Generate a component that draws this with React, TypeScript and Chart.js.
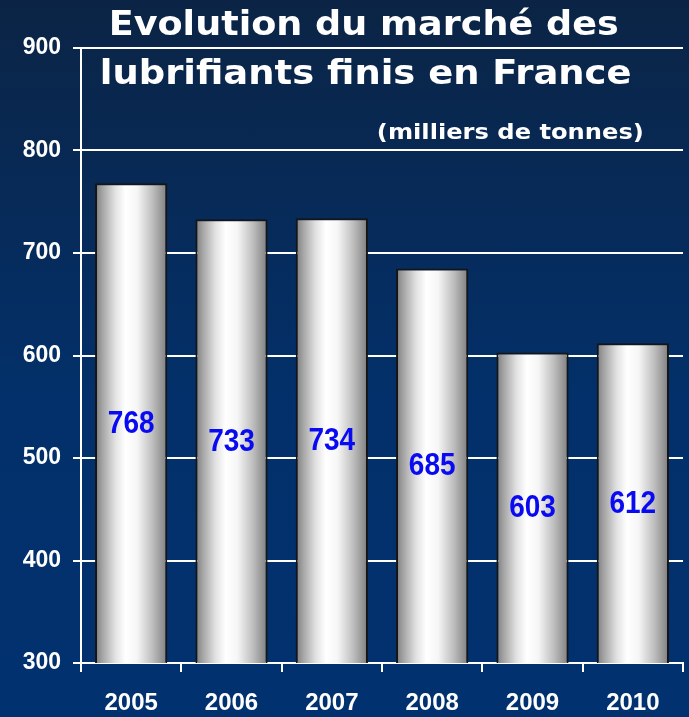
import { useEffect, useRef } from "react";
import { Chart, registerables } from "chart.js";

Chart.register(...registerables);

// ---- data ----
const years = ["2005", "2006", "2007", "2008", "2009", "2010"];
const volumes = [768, 733, 734, 685, 603, 612];
const yMin = 300;
const yMax = 900;
const yStep = 100;
const titleLines = ["Evolution du marché des", "lubrifiants finis en France"];
const unitLabel = "(milliers de tonnes)";

const SANS = '"Liberation Sans", Arial, sans-serif';
const TITLE_FONT = '"DejaVu Sans", Verdana, sans-serif';
const BAR_PCT = 0.72;

function drawFitted(
  ctx: CanvasRenderingContext2D,
  text: string,
  left: number,
  right: number,
  baseline: number,
  font: string
) {
  ctx.save();
  ctx.font = font;
  ctx.textAlign = "left";
  ctx.textBaseline = "alphabetic";
  const m = ctx.measureText(text);
  const ink = m.actualBoundingBoxLeft + m.actualBoundingBoxRight;
  const s = (right - left) / ink;
  ctx.translate(left + m.actualBoundingBoxLeft * s, baseline);
  ctx.scale(s, 1);
  ctx.fillStyle = "#ffffff";
  ctx.fillText(text, 0, 0);
  ctx.restore();
}

const overlayPlugin = {
  id: "overlayTexts",
  afterDatasetsDraw(chart: any) {
    const ctx: CanvasRenderingContext2D = chart.ctx;
    const meta = chart.getDatasetMeta(0);
    const bottom = chart.chartArea.bottom;
    ctx.save();
    ctx.fillStyle = "#0a0af2";
    ctx.font = `bold 28px ${SANS}`;
    ctx.textAlign = "center";
    ctx.textBaseline = "middle";
    meta.data.forEach((el: any, i: number) => {
      const p = el.getProps(["x", "y", "base"], true);
      const base = Math.min(p.base, bottom);
      const midY = (p.y + base) / 2;
      ctx.save();
      ctx.translate(p.x, midY);
      ctx.scale(1, 1.12);
      ctx.fillText(String(volumes[i]), 0, 1);
      ctx.restore();
    });
    ctx.restore();
  },
  afterDraw(chart: any) {
    const ctx: CanvasRenderingContext2D = chart.ctx;
    drawFitted(ctx, titleLines[0], 112, 618, 35, `bold 33px ${TITLE_FONT}`);
    drawFitted(ctx, titleLines[1], 102, 630, 84, `bold 33px ${TITLE_FONT}`);
    drawFitted(ctx, unitLabel, 378, 642, 139, `bold 21px ${TITLE_FONT}`);
  },
};

export default function App() {
  const ref = useRef<HTMLCanvasElement | null>(null);

  useEffect(() => {
    document.body.style.margin = "0";
    const canvas = ref.current;
    if (!canvas) return;

    const chart = new Chart(canvas, {
      type: "bar",
      data: {
        labels: years,
        datasets: [
          {
            data: volumes,
            backgroundColor: (c: any) => {
              const ch = c.chart;
              const xs = ch.scales && ch.scales.x;
              if (!xs || !ch.chartArea) return "#cccccc";
              const cx = xs.getPixelForValue(c.dataIndex);
              const half = ((xs.width / years.length) * BAR_PCT) / 2;
              const g = ch.ctx.createLinearGradient(cx - half, 0, cx + half, 0);
              g.addColorStop(0, "#7c7c7c");
              g.addColorStop(0.1, "#a4a4a4");
              g.addColorStop(0.28, "#e2e2e2");
              g.addColorStop(0.42, "#ffffff");
              g.addColorStop(0.58, "#f6f6f6");
              g.addColorStop(0.8, "#bdbdbd");
              g.addColorStop(1, "#7e7e7e");
              return g;
            },
            borderColor: "#151515",
            borderWidth: 2,
            barPercentage: BAR_PCT,
            categoryPercentage: 1,
          },
        ],
      },
      options: {
        responsive: false,
        animation: false,
        layout: { padding: { top: 48, right: 6, left: 0, bottom: 0 } },
        plugins: {
          legend: { display: false },
          tooltip: { enabled: false },
          title: { display: false },
        },
        scales: {
          x: {
            grid: {
              display: true,
              drawOnChartArea: false,
              drawTicks: true,
              tickLength: 9,
              color: "#ffffff",
              lineWidth: 2,
              offset: true,
            },
            border: { display: true, color: "#ffffff", width: 2 },
            ticks: {
              color: "#ffffff",
              padding: 17,
              font: { family: SANS, size: 24, weight: "bold" },
            },
            afterFit: (s: any) => {
              s.height = 54;
            },
          },
          y: {
            min: yMin,
            max: yMax,
            grid: {
              color: "#ffffff",
              lineWidth: 2,
              tickLength: 8,
              drawTicks: true,
            },
            border: { display: true, color: "#ffffff", width: 2 },
            ticks: {
              stepSize: yStep,
              color: "#ffffff",
              padding: 12,
              font: { family: SANS, size: 23, weight: "bold" },
            },
            afterFit: (s: any) => {
              s.width = 81;
            },
          },
        },
      } as any,
      plugins: [overlayPlugin],
    });

    return () => chart.destroy();
  }, []);

  return (
    <div
      style={{
        width: 689,
        height: 717,
        background: "linear-gradient(to bottom, #0b2445 0%, #03306a 55%, #01316f 100%)",
      }}
    >
      <canvas ref={ref} width={689} height={717} style={{ display: "block", width: 689, height: 717 }} />
    </div>
  );
}
